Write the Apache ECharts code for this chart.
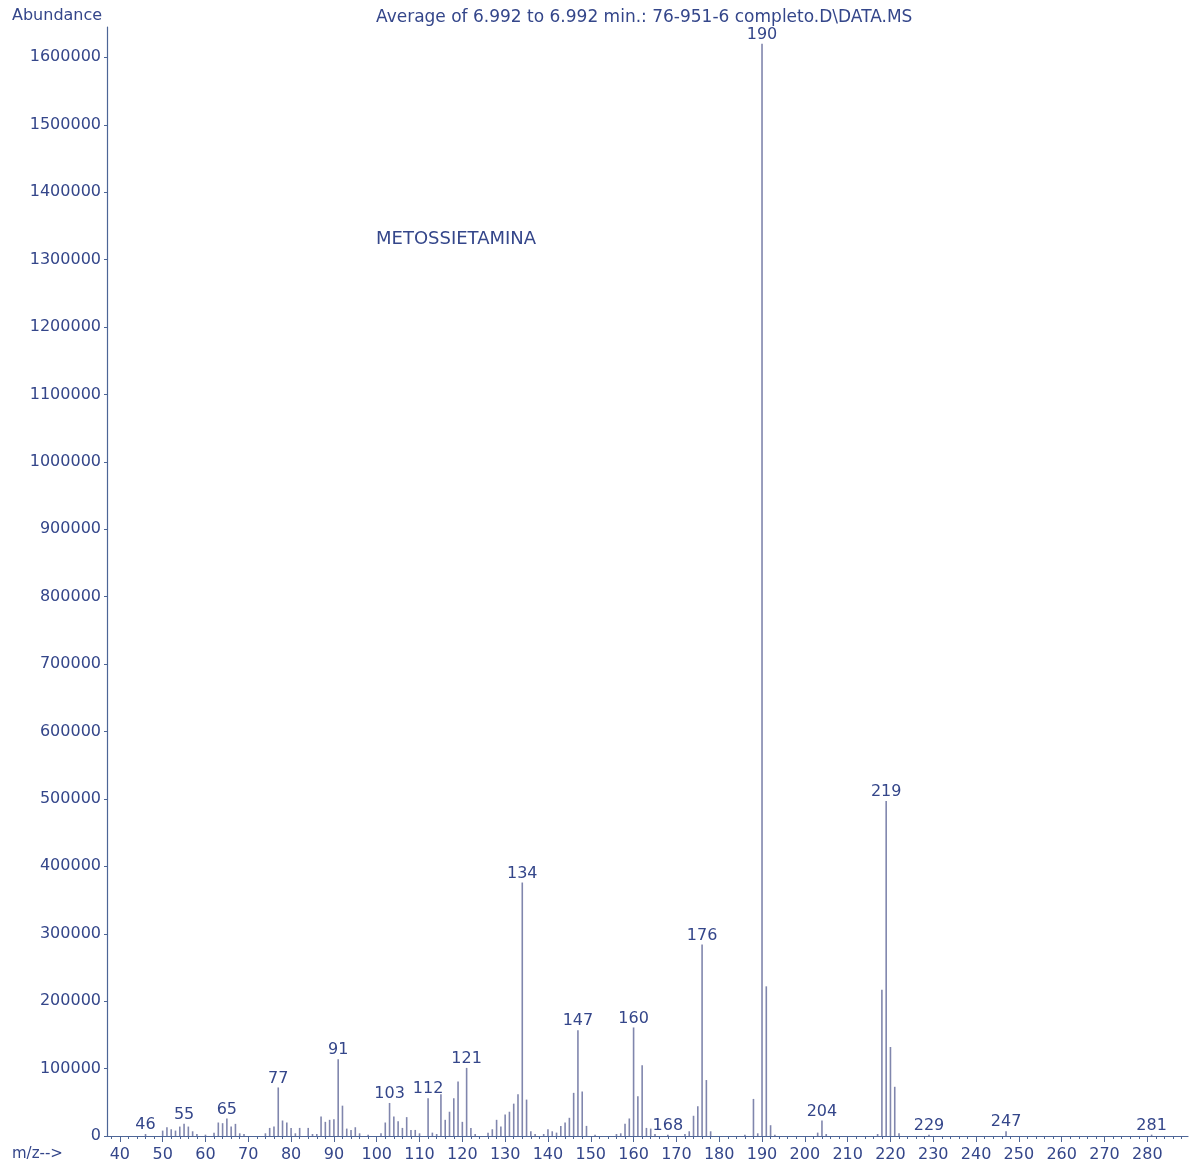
<!DOCTYPE html>
<html>
<head>
<meta charset="utf-8">
<title>METOSSIETAMINA - spettro di massa</title>
<script src="https://cdn.jsdelivr.net/npm/echarts@6/dist/echarts.min.js"></script>
<style>
  html, body { margin: 0; padding: 0; background: #ffffff; }
  #chart { width: 1190px; height: 1167px; }
</style>
</head>
<body>
<div id="chart"></div>
<script>
// m/z values of the ions in the averaged spectrum
const mzValues = [
  46, 50, 51, 52, 53, 54, 55, 56, 57, 58, 60, 62, 63, 64, 65, 66, 67, 68, 69,
  74, 75, 76, 77, 78, 79, 80, 81, 82, 84, 85, 86, 87, 88, 89, 90, 91, 92, 93, 94, 95, 96, 98,
  101, 102, 103, 104, 105, 106, 107, 108, 109, 110, 112, 113, 114, 115, 116, 117, 118, 119, 120,
  121, 122, 123, 126, 127, 128, 129, 130, 131, 132, 133, 134, 135, 136, 137, 139, 140,
  141, 142, 143, 144, 145, 146, 147, 148, 149, 151, 156, 157, 158, 159, 160,
  161, 162, 163, 164, 165, 168, 172, 173, 174, 175, 176, 177, 178, 186, 188, 189, 190,
  191, 192, 193, 203, 204, 205, 217, 218, 219, 220, 221, 222, 229, 247, 281
];
// abundance of each ion, same order as mzValues
const abundance = [
  3000, 8000, 13000, 10000, 8000, 14000, 18000, 14000, 7000, 3000, 2000, 5000, 20000, 19000, 26000, 14000, 18000, 4000, 3000,
  4000, 12000, 14000, 72000, 23000, 20000, 12000, 4000, 12000, 12000, 3000, 3000, 29000, 21000, 24000, 25000, 114000, 45000, 11000, 9000, 13000, 4000, 2000,
  4000, 20000, 49000, 29000, 22000, 12000, 28000, 9000, 9000, 4000, 56000, 5000, 3000, 62000, 24000, 36000, 56000, 81000, 21000,
  101000, 12000, 3000, 5000, 10000, 24000, 14000, 32000, 36000, 48000, 62000, 376000, 54000, 7000, 3000, 3000, 10000,
  7000, 5000, 15000, 20000, 27000, 64000, 157000, 66000, 15000, 2000, 3000, 4000, 18000, 26000, 161000,
  59000, 105000, 12000, 11000, 3000, 2000, 3000, 7000, 30000, 44000, 284000, 83000, 7000, 2000, 55000, 4000, 1620000,
  222000, 16000, 2000, 5000, 23000, 3000, 3000, 217000, 497000, 132000, 73000, 4000, 2000, 7000, 2000
];
// ions annotated with their m/z
const labelledIons = [46, 55, 65, 77, 91, 103, 112, 121, 134, 147, 160, 168, 176, 190, 204, 219, 229, 247, 281];

// axis tick labels
const mzTickLabels = [40, 50, 60, 70, 80, 90, 100, 110, 120, 130, 140, 150, 160, 170, 180, 190, 200, 210, 220, 230, 240, 250, 260, 270, 280];
const abundanceTickLabels = [0, 100000, 200000, 300000, 400000, 500000, 600000, 700000, 800000,
  900000, 1000000, 1100000, 1200000, 1300000, 1400000, 1500000, 1600000];
const mzMinorTicks = [];
for (let v = 38; v <= 288; v += 2) mzMinorTicks.push(v);

const INK = '#34468a';
const AXIS = '#4d6596';
const STICK = '#8086ad';
const FONT = '"DejaVu Sans", Verdana, sans-serif';

const stickData = mzValues.map((mz, i) => {
  const item = { value: [mz, abundance[i]] };
  if (labelledIons.indexOf(mz) >= 0) {
    item.label = { show: true };
  }
  return item;
});

const chart = echarts.init(document.getElementById('chart'), null, { renderer: 'canvas' });

chart.setOption({
  animation: false,
  backgroundColor: '#ffffff',
  textStyle: { fontFamily: FONT, color: INK },
  grid: { left: 107, right: 2, top: 27, bottom: 31, containLabel: false },
  xAxis: [
    {
      type: 'value',
      min: 37,
      max: 289.5,
      axisLine: { show: true, lineStyle: { color: AXIS, width: 1.2 } },
      axisTick: { show: true, length: 6, customValues: mzTickLabels, lineStyle: { color: AXIS } },
      axisLabel: {
        show: true, customValues: mzTickLabels, margin: 11,
        fontSize: 16, fontFamily: FONT, color: INK,
        formatter: (v) => String(v)
      },
      splitLine: { show: false }
    },
    {
      type: 'value',
      min: 37,
      max: 289.5,
      position: 'bottom',
      axisLine: { show: false },
      axisTick: { show: true, length: 3, customValues: mzMinorTicks, lineStyle: { color: AXIS } },
      axisLabel: { show: false },
      splitLine: { show: false }
    }
  ],
  yAxis: {
    type: 'value',
    min: 0,
    max: 1645000,
    axisLine: { show: true, lineStyle: { color: AXIS, width: 1.2 } },
    axisTick: { show: true, length: 3, customValues: abundanceTickLabels, lineStyle: { color: AXIS } },
    axisLabel: {
      show: true, customValues: abundanceTickLabels, margin: 6,
      fontSize: 16, fontFamily: FONT, color: INK,
      formatter: (v) => String(v)
    },
    splitLine: { show: false }
  },
  series: [
    {
      type: 'bar',
      xAxisIndex: 0,
      barWidth: 1.6,
      itemStyle: { color: STICK },
      label: {
        show: false,
        position: 'top',
        distance: 1,
        fontSize: 16,
        fontFamily: FONT,
        color: INK,
        formatter: (p) => String(p.value[0])
      },
      data: stickData
    }
  ],
  graphic: [
    {
      type: 'text', left: 12, top: 8,
      style: { text: 'Abundance', fontSize: 16, fontFamily: FONT, fill: INK }
    },
    {
      type: 'text', left: 376, top: 9,
      style: { text: 'Average of 6.992 to 6.992 min.: 76-951-6 completo.D\\DATA.MS', fontSize: 17, fontFamily: FONT, fill: INK }
    },
    {
      type: 'text', left: 376, top: 230,
      style: { text: 'METOSSIETAMINA', fontSize: 18, fontFamily: FONT, fill: INK }
    },
    {
      type: 'text', left: 12, top: 1147,
      style: { text: 'm/z-->', fontSize: 15, fontFamily: FONT, fill: INK }
    }
  ]
});
</script>
</body>
</html>
